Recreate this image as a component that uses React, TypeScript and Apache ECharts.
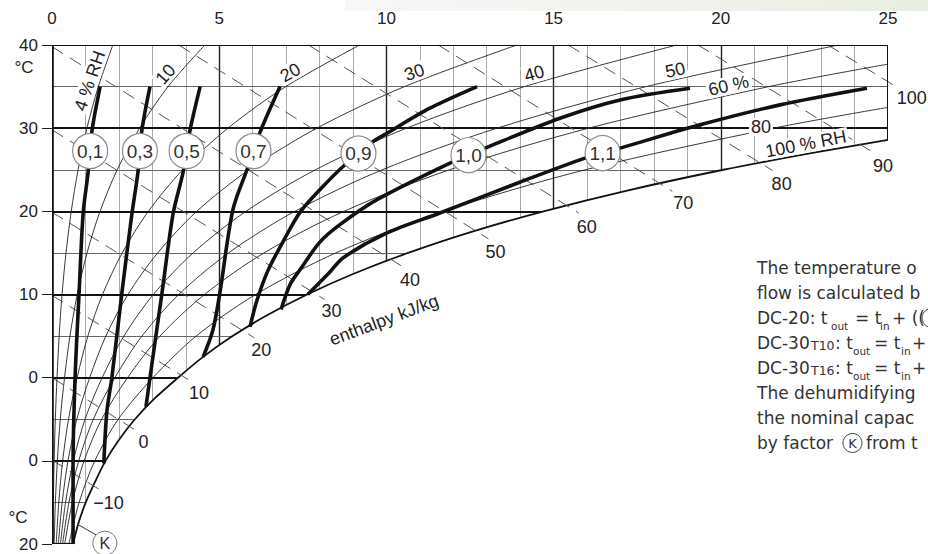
import React, { useEffect, useRef } from "react";
import * as echarts from "echarts";

// ---------- axes ----------
const xTickValues = [0, 5, 10, 15, 20, 25];
const yTickValues = [-20, -10, 0, 10, 20, 30, 40];
const yTickLabels = ["20", "0", "0", "10", "20", "30", "40"];
const waterGrid = [1, 2, 3, 4, 5, 6, 7, 8, 9, 10, 11, 12, 13, 14, 15, 16, 17, 18, 19, 20, 21, 22, 23, 24];
const tempGrid = [-15, -10, -5, 0, 5, 10, 15, 20, 25, 30, 35];

// ---------- saturation curve (100 % RH) : water content g/kg vs °C ----------
const satX = [0.63, 0.79, 1.01, 1.29, 1.6, 2.0, 2.48, 3.07, 3.77, 4.52, 5.4, 6.43, 7.63, 9.02, 10.65, 12.52, 14.7, 17.2, 20.08, 22.7, 25.0];
const satT = [-20, -17.5, -15, -12.5, -10, -7.5, -5, -2.5, 0, 2.5, 5, 7.5, 10, 12.5, 15, 17.5, 20, 22.5, 25, 27, 28.6];

// ---------- relative humidity curves ----------
const rhTemps = [-20, -15, -10, -5, 0, 5, 10, 15, 20, 25, 30, 35, 40];
const rh4 = [0.025, 0.04, 0.064, 0.099, 0.15, 0.214, 0.3, 0.419, 0.575, 0.78, 1.045, 1.385, 1.82];
const rh10 = [0.063, 0.101, 0.16, 0.247, 0.375, 0.536, 0.755, 1.048, 1.437, 1.95, 2.62, 3.47, 4.57];
const rh20 = [0.126, 0.203, 0.319, 0.494, 0.75, 1.073, 1.51, 2.1, 2.88, 3.91, 5.26, 6.99, 9.2];
const rh30 = [0.19, 0.304, 0.479, 0.741, 1.127, 1.61, 2.27, 3.16, 4.33, 5.89, 7.92, 10.54, 13.9];
const rh40 = [0.253, 0.405, 0.639, 0.988, 1.5, 2.15, 3.03, 4.22, 5.8, 7.88, 10.6, 14.13, 18.68];
const rh50 = [0.316, 0.507, 0.799, 1.236, 1.88, 2.69, 3.79, 5.28, 7.26, 9.88, 13.31, 17.77, 23.52];
const rh60Temps = [-20, -15, -10, -5, 0, 5, 10, 15, 20, 25, 30, 35, 37.7];
const rh60 = [0.38, 0.608, 0.959, 1.483, 2.26, 3.23, 4.56, 6.34, 8.73, 11.89, 16.05, 21.44, 25.0];
const rh80Temps = [-20, -15, -10, -5, 0, 5, 10, 15, 20, 25, 30, 32.5];
const rh80 = [0.506, 0.811, 1.28, 1.98, 3.02, 4.31, 6.09, 8.49, 11.7, 15.95, 21.58, 25.0];

const rhLabels = ["4 % RH", "10", "20", "30", "40", "50", "60 %", "80", "100 % RH"];
const rhLabelAnchorX = [1.41, 3.62, 7.27, 10.94, 14.5, 18.7, 20.3, 21.2, 22.6];
const rhLabelMode = ["above", "above", "above", "above", "above", "above", "above", "on", "above"];
const rhLabelTilt = [true, true, true, true, true, true, true, false, true];
const rhLabelDy = [0, 0, 0, 0, 0, 0, 0, -4, 0];

// ---------- enthalpy lines (kJ/kg) ----------
const enthalpyValues = [-10, 0, 10, 20, 30, 40, 50, 60, 70, 80, 90, 100];
const enthStartX = [0, 0, 0, 0, 0, 0, 3.79, 7.67, 11.55, 15.44, 19.32, 23.2];
const enthStartT = [-9.9, 0, 9.9, 19.9, 29.8, 39.8, 40, 40, 40, 40, 40, 40];
const enthEndX = [1.6, 2.65, 4.22, 6.05, 8.15, 10.5, 13.05, 15.75, 18.55, 21.55, 24.55, 25.2];
const enthEndT = [-13.9, -6.7, -0.6, 4.8, 9.4, 13.3, 16.7, 19.8, 22.4, 24.9, 27.1, 35.1];
const enthLabelOffset = [[3, 10], [3, 9], [6, 10], [7, 12], [7, 12], [7, 13], [7, 13], [8, 14], [11, 12], [9, 13], [10, 14], [17, 12]];

// ---------- K factor curves ----------
const kNames = ["0,1", "0,3", "0,5", "0,7", "0,9", "1,0", "1,1"];
const k01 = [[1.44, 35], [1.2, 29.8], [1.08, 24.7], [0.93, 19.7], [0.81, 10.2], [0.69, 0], [0.63, -10.5], [0.63, -20]];
const k03 = [[2.93, 35], [2.69, 29.8], [2.57, 24.7], [2.39, 19.7], [2.09, 10.2], [1.79, 0], [1.64, -4.1], [1.55, -10.3]];
const k05 = [[4.43, 35], [4.13, 29.8], [3.92, 24.7], [3.62, 19.7], [3.29, 10.2], [2.93, 0], [2.81, -3.5]];
const k07 = [[6.82, 35], [6.22, 29.5], [5.83, 25.0], [5.41, 20.2], [5.02, 10.2], [4.81, 5.7], [4.52, 2.5]];
const k09 = [[12.71, 35], [11.3, 32.4], [10.02, 29.4], [9.57, 28.3], [8.76, 25.6], [8.01, 22.6], [7.42, 19.9], [6.97, 16.8], [6.46, 12.9], [6.13, 9.3], [5.92, 6.1]];
const k10 = [[19.08, 34.8], [16.99, 33.4], [15.19, 31.2], [13.01, 27.7], [11.9, 25.8], [9.72, 21.4], [8.61, 18.4], [8.01, 16.3], [7.42, 13.0], [7.12, 11.2], [6.85, 8.2]];
const k11 = [[24.37, 34.8], [21.77, 32.8], [19.38, 30.4], [16.99, 27.6], [15.94, 26.4], [13.99, 23.5], [11.6, 19.8], [10.02, 17.4], [8.7, 14.4], [8.31, 12.7], [7.65, 10.0]];
const kCurves = [k01, k03, k05, k07, k09, k10, k11];
const kGapIndex = [1, 1, 1, 1, 3, 3, 3];

// ---------- note text (kind, text) ----------
const noteLines: [string, string][][] = [
  [["n", "The temperature o"]],
  [["n", "flow is calculated b"]],
  [["n", "DC-20: t"], ["s", "out"], ["n", "= t"], ["s", "in"], ["n", "+ (("], ["k", "K"]],
  [["n", "DC-30"], ["c", "T10"], ["n", ": t"], ["s", "out"], ["n", "= t"], ["s", "in"], ["n", "+"]],
  [["n", "DC-30"], ["c", "T16"], ["n", ": t"], ["s", "out"], ["n", "= t"], ["s", "in"], ["n", "+"]],
  [["n", "The dehumidifying"]],
  [["n", "the nominal capac"]],
  [["n", "by factor"], ["k", "K"], ["n", "from t"]],
];
// layout of the note segments (left x of each segment, px)
const noteSegX = [
  [757],
  [757],
  [757, 831, 855, 880, 892, 922],
  [757, 811, 835, 853, 874, 901, 912],
  [757, 811, 835, 853, 874, 901, 912],
  [757],
  [757],
  [757, 843, 866],
];
const noteLineY = [268, 293, 318, 343, 368, 393, 418, 443];

const AXIS_FONT = "'Liberation Sans', Arial, Helvetica, sans-serif";
const NOTE_FONT = "'DejaVu Sans', sans-serif";

export default function App() {
  const ref = useRef<HTMLDivElement>(null);

  useEffect(() => {
    const chart = echarts.init(ref.current!, null, { renderer: "svg" });
    const pairs = (xs: number[], ts: number[]) => xs.map((x, i) => [x, ts[i]]);

    const gridItems: any[] = [];
    waterGrid.forEach((g) => {
      const major = g % 5 === 0;
      gridItems.push({ coords: [[g, 40], [g, -20]], lineStyle: { color: major ? "#222" : "#a0a0a0", width: major ? 1.4 : 0.9, opacity: 1 } });
    });
    tempGrid.forEach((t) => {
      const major = t % 10 === 0;
      gridItems.push({ coords: [[0, t], [25, t]], lineStyle: { color: major ? "#111" : "#666", width: major ? 1.8 : 1.1, opacity: 1 } });
    });

    const borderItems = [
      { coords: [[0, 40], [0, -20]], lineStyle: { color: "#111", width: 2.6, opacity: 1 } },
      { coords: [[0, 40], [25, 40]], lineStyle: { color: "#111", width: 2, opacity: 1 } },
      { coords: [[25, 40], [25, satT[satT.length - 1]]], lineStyle: { color: "#111", width: 2, opacity: 1 } },
      { coords: [[0, -20], [satX[0], -20]], lineStyle: { color: "#111", width: 2.2, opacity: 1 } },
    ];

    const enthItems = enthalpyValues.map((h, i) => ({
      coords: [[enthStartX[i], enthStartT[i]], [enthEndX[i], enthEndT[i]]],
    }));

    const rhSets = [
      { xs: rh4, ts: rhTemps },
      { xs: rh10, ts: rhTemps },
      { xs: rh20, ts: rhTemps },
      { xs: rh30, ts: rhTemps },
      { xs: rh40, ts: rhTemps },
      { xs: rh50, ts: rhTemps },
      { xs: rh60, ts: rh60Temps },
      { xs: rh80, ts: rh80Temps },
    ];

    const series: any[] = [
      { type: "lines", coordinateSystem: "cartesian2d", z: 1, silent: true, data: gridItems },
      {
        type: "line", data: pairs(satX, satT), smooth: 0.3, symbol: "none", z: 2, silent: true,
        lineStyle: { color: "#111", width: 1.8 },
        areaStyle: { color: "#ffffff", opacity: 1, origin: "start" },
      },
      ...rhSets.map((s) => ({
        type: "line", data: pairs(s.xs, s.ts), smooth: 0.3, symbol: "none", z: 3, silent: true,
        lineStyle: { color: "#222", width: 0.9 },
      })),
      {
        type: "lines", coordinateSystem: "cartesian2d", z: 3, silent: true, clip: false, data: enthItems,
        lineStyle: { color: "#555", width: 1, type: [13, 8], opacity: 1 },
      },
      { type: "lines", coordinateSystem: "cartesian2d", z: 4, silent: true, data: borderItems },
      ...kCurves.map((c) => ({
        type: "line", data: c, smooth: 0.3, symbol: "none", z: 5, silent: true,
        lineStyle: { color: "#111", width: 3.6 },
      })),
      {
        type: "scatter", z: 6, silent: true, symbol: "circle", symbolSize: 35,
        itemStyle: { color: "#fff", borderColor: "#8a8a8a", borderWidth: 1.2, opacity: 1 },
        label: { show: true, position: "inside", formatter: "{b}", fontSize: 19, color: "#333", fontFamily: AXIS_FONT },
        data: kCurves.map((c, i) => {
          const a = c[kGapIndex[i]], b = c[kGapIndex[i] + 1];
          return { name: kNames[i], value: [(a[0] + b[0]) / 2, (a[1] + b[1]) / 2] };
        }),
      },
    ];

    const option: any = {
      animation: false,
      backgroundColor: "#fff",
      grid: { left: 52, right: 40, top: 45, bottom: 10 },
      xAxis: {
        type: "value", position: "top", min: 0, max: 25, interval: 5,
        axisLine: { show: false },
        axisTick: { show: true, length: 10, lineStyle: { color: "#222", width: 1 } },
        axisLabel: {
          show: true, margin: 18, fontSize: 17, color: "#222", fontFamily: AXIS_FONT,
          formatter: (v: number) => (xTickValues.indexOf(v) >= 0 ? String(v) : ""),
        },
        splitLine: { show: false },
      },
      yAxis: {
        type: "value", min: -20, max: 40, interval: 10,
        axisLine: { show: false },
        axisTick: { show: true, length: 10, lineStyle: { color: "#222", width: 1 } },
        axisLabel: {
          show: true, margin: 14, fontSize: 17, color: "#222", fontFamily: AXIS_FONT,
          formatter: (v: number) => {
            const i = yTickValues.indexOf(v);
            return i >= 0 ? yTickLabels[i] : "";
          },
        },
        splitLine: { show: false },
      },
      series,
    };
    chart.setOption(option);

    const px = (x: number, t: number) => chart.convertToPixel({ gridIndex: 0 }, [x, t]) as number[];
    const graphics: any[] = [];

    // faint background band at top right
    graphics.push({
      type: "rect", z: 0, shape: { x: 345, y: 0, width: 583, height: 11 },
      style: { fill: new echarts.graphic.LinearGradient(0, 0, 1, 0, [{ offset: 0, color: "#f8f8f8" }, { offset: 1, color: "#e9eee2" }]) },
    });

    // RH labels
    const allRh = [...rhSets, { xs: satX, ts: satT }];
    rhLabels.forEach((text, i) => {
      const { xs, ts } = allRh[i];
      const a = rhLabelAnchorX[i];
      let k = 0;
      while (k < xs.length - 2 && xs[k + 1] < a) k++;
      const f = (a - xs[k]) / (xs[k + 1] - xs[k]);
      const t = ts[k] + f * (ts[k + 1] - ts[k]);
      const p = px(a, t);
      const p1 = px(xs[k], ts[k]);
      const p2 = px(xs[k + 1], ts[k + 1]);
      const ang = rhLabelTilt[i] ? Math.atan2(-(p2[1] - p1[1]), p2[0] - p1[0]) : 0;
      const above = rhLabelMode[i] === "above";
      graphics.push({
        type: "text", x: p[0], y: p[1] + rhLabelDy[i], rotation: ang, z: 100,
        style: {
          text, x: 0, y: above ? -1 : 0, fill: "#222", fontSize: 18, fontFamily: AXIS_FONT,
          align: "center", verticalAlign: above ? "bottom" : "middle",
          textAlign: "center", textVerticalAlign: above ? "bottom" : "middle",
          backgroundColor: "#fff", padding: [0, 2, 0, 2],
        },
      });
    });

    // enthalpy labels
    enthalpyValues.forEach((h, i) => {
      const p = px(enthEndX[i], enthEndT[i]);
      graphics.push({
        type: "text", x: p[0] + enthLabelOffset[i][0], y: p[1] + enthLabelOffset[i][1], z: 100,
        style: {
          text: h < 0 ? "\u2212" + Math.abs(h) : String(h), fill: "#222", fontSize: 18, fontFamily: AXIS_FONT,
          align: "center", verticalAlign: "middle", textAlign: "center", textVerticalAlign: "middle",
        },
      });
    });

    // axis unit labels
    [[24, 67], [18, 517]].forEach(([x, y]) => {
      graphics.push({
        type: "text", x, y, z: 100,
        style: { text: "°C", fill: "#222", fontSize: 17, fontFamily: AXIS_FONT, align: "center", verticalAlign: "middle", textAlign: "center", textVerticalAlign: "middle" },
      });
    });

    // enthalpy axis title
    graphics.push({
      type: "text", x: 384, y: 320, rotation: 0.36, z: 100,
      style: { text: "enthalpy kJ/kg", fill: "#222", fontSize: 18, fontFamily: AXIS_FONT, align: "center", verticalAlign: "middle", textAlign: "center", textVerticalAlign: "middle" },
    });

    // K marker at bottom
    const kc = px(1.58, -19.9);
    const l1 = px(0.75, -17.6);
    const l2 = px(1.32, -18.9);
    graphics.push({ type: "line", z: 100, shape: { x1: l1[0], y1: l1[1], x2: l2[0], y2: l2[1] }, style: { stroke: "#333", lineWidth: 1 } });
    graphics.push({ type: "circle", z: 100, shape: { cx: kc[0], cy: kc[1], r: 12 }, style: { fill: "#fff", stroke: "#777", lineWidth: 1 } });
    graphics.push({
      type: "text", x: kc[0], y: kc[1], z: 101,
      style: { text: "K", fill: "#333", fontSize: 16, fontFamily: AXIS_FONT, align: "center", verticalAlign: "middle", textAlign: "center", textVerticalAlign: "middle" },
    });

    // white panel behind the note block
    graphics.push({ type: "rect", z: 99, shape: { x: 750, y: 255, width: 178, height: 200 }, style: { fill: "#fff" } });

    // note text block
    noteLines.forEach((segs, li) => {
      const y = noteLineY[li];
      segs.forEach(([kind, text], si) => {
        const x = noteSegX[li][si];
        if (kind === "k") {
          const r = 9.5;
          graphics.push({ type: "circle", z: 100, shape: { cx: x + r, cy: y, r }, style: { fill: "#fff", stroke: "#444", lineWidth: 1 } });
          graphics.push({
            type: "text", x: x + r, y, z: 101,
            style: { text, fill: "#333", fontSize: 13, fontFamily: NOTE_FONT, align: "center", verticalAlign: "middle", textAlign: "center", textVerticalAlign: "middle" },
          });
          return;
        }
        const size = kind === "n" ? 17 : kind === "s" ? 10.5 : 12.5;
        const dy = kind === "s" ? 8 : kind === "c" ? 2 : 0;
        graphics.push({
          type: "text", x, y: y + dy, z: 100,
          style: { text, fill: "#333", fontSize: size, fontFamily: NOTE_FONT, align: "left", verticalAlign: "middle", textAlign: "left", textVerticalAlign: "middle" },
        });
      });
    });

    chart.setOption({ graphic: { elements: graphics } });

    return () => chart.dispose();
  }, []);

  return (
    <div
      ref={ref}
      style={{ position: "fixed", left: 0, top: 0, width: 928, height: 554, overflow: "hidden", background: "#fff" }}
    />
  );
}
